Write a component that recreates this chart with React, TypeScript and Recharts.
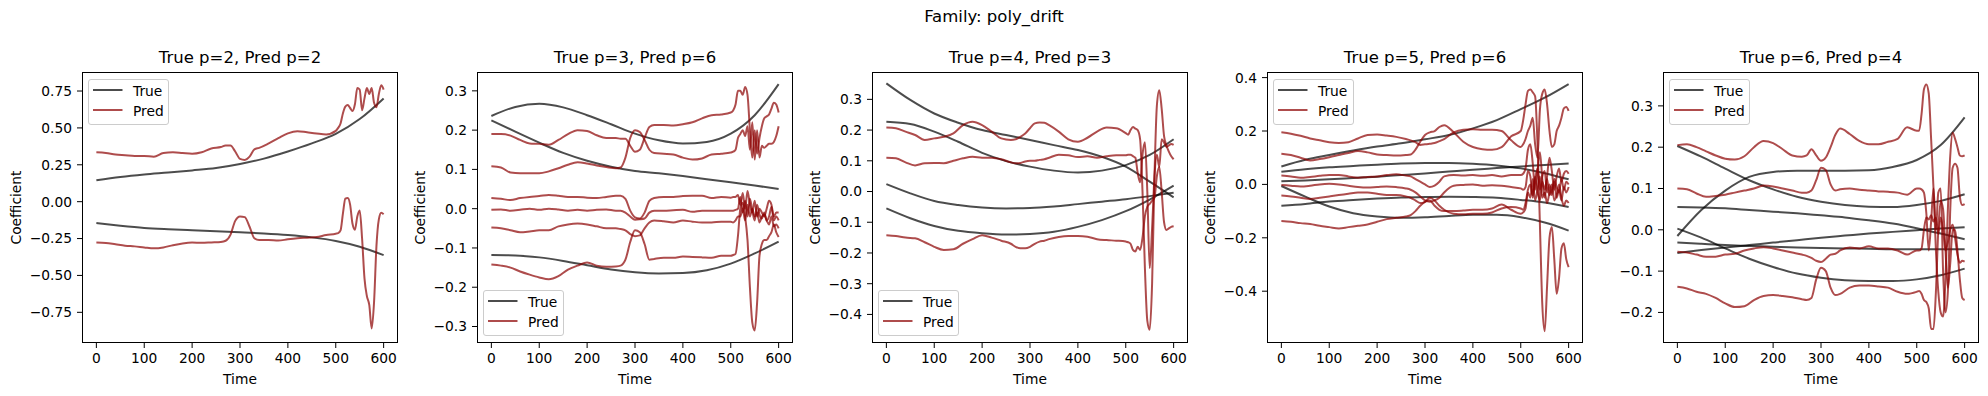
import { LineChart, Line, XAxis, YAxis } from "recharts";

// time grids: true curves are smooth, so a coarse grid is enough;
// predictions get denser sampling where they wiggle (the bump near 300 and the tail)
const TIME_TRUE = [0, 50, 100, 150, 200, 250, 300, 350, 400, 450, 500, 550, 600];
const TIME_PRED = [
  0, 20, 40, 60, 80, 100, 120, 140, 160, 180, 200, 220, 240, 260,
  270, 280, 290, 300, 310, 320, 330, 340,
  360, 380, 400, 420, 440, 460, 480, 500,
  505, 510, 515, 520, 525, 530, 535, 540, 545, 550, 555, 560, 565, 570, 575, 580, 585, 590, 595, 600,
];
const X_TICKS = [0, 100, 200, 300, 400, 500, 600];

// ---- panel 1: true p=2, pred p=2
const P1_TRUE_1 = [0.145, 0.168, 0.185, 0.198, 0.212, 0.228, 0.255, 0.292, 0.34, 0.395, 0.46, 0.56, 0.7];
const P1_TRUE_2 = [-0.145, -0.163, -0.178, -0.187, -0.194, -0.2, -0.207, -0.215, -0.226, -0.242, -0.266, -0.305, -0.362];
const P1_PRED_1 = [
  0.335, 0.33, 0.32, 0.315, 0.31, 0.31, 0.305, 0.33, 0.335, 0.33, 0.325, 0.335, 0.36, 0.37,
  0.38, 0.38, 0.34, 0.29, 0.283, 0.305, 0.355, 0.365,
  0.395, 0.43, 0.463, 0.478, 0.47, 0.462, 0.456, 0.48,
  0.5, 0.53, 0.6, 0.645, 0.655, 0.635, 0.615, 0.66, 0.77, 0.76, 0.62, 0.7, 0.77, 0.73, 0.77, 0.67, 0.64, 0.73, 0.79, 0.76,
];
const P1_PRED_2 = [
  -0.276, -0.28, -0.289, -0.298, -0.303, -0.31, -0.316, -0.31, -0.295, -0.283, -0.277, -0.279, -0.276, -0.273,
  -0.265, -0.225, -0.13, -0.1, -0.105, -0.17, -0.248, -0.26,
  -0.26, -0.264, -0.255, -0.248, -0.244, -0.24, -0.226, -0.217,
  -0.213, -0.195, -0.08, 0.02, 0.025, -0.02, -0.15, -0.19, -0.1, -0.06, -0.25, -0.52, -0.64, -0.7, -0.86, -0.68, -0.3, -0.12, -0.075, -0.085,
];

// ---- panel 2: true p=3, pred p=6
const P2_TRUE_1 = [0.236, 0.259, 0.267, 0.258, 0.238, 0.215, 0.191, 0.174, 0.166, 0.17, 0.191, 0.238, 0.317];
const P2_TRUE_2 = [0.225, 0.196, 0.168, 0.142, 0.122, 0.107, 0.096, 0.09, 0.083, 0.075, 0.067, 0.059, 0.05];
const P2_TRUE_3 = [-0.118, -0.119, -0.124, -0.133, -0.144, -0.155, -0.162, -0.165, -0.164, -0.157, -0.14, -0.114, -0.084];
const P2_PRED_1 = [
  0.19, 0.19, 0.186, 0.175, 0.166, 0.165, 0.163, 0.175, 0.19, 0.2, 0.198, 0.187, 0.18, 0.18,
  0.178, 0.178, 0.16, 0.145, 0.15, 0.18, 0.208, 0.213,
  0.213, 0.212, 0.215, 0.22, 0.23, 0.238, 0.24, 0.245,
  0.25, 0.265, 0.3, 0.3, 0.29, 0.31, 0.29, 0.2, 0.13, 0.2, 0.14, 0.18, 0.21, 0.23, 0.235, 0.24, 0.255, 0.27, 0.265, 0.245,
];
const P2_PRED_2 = [
  0.108, 0.105, 0.092, 0.09, 0.09, 0.09, 0.095, 0.103, 0.112, 0.118, 0.115, 0.11, 0.106, 0.103,
  0.105, 0.13, 0.18, 0.2, 0.195, 0.175, 0.15, 0.142,
  0.14, 0.138, 0.13, 0.125, 0.128, 0.138, 0.14, 0.143,
  0.145, 0.15, 0.18, 0.19, 0.2, 0.185, 0.21, 0.15, 0.22, 0.125, 0.2, 0.13, 0.16, 0.155, 0.16, 0.165, 0.165, 0.17, 0.185, 0.21,
];
const P2_PRED_3 = [
  0.027, 0.025, 0.022, 0.027, 0.03, 0.032, 0.035, 0.033, 0.03, 0.03, 0.028, 0.027, 0.03, 0.033,
  0.033, 0.025, -0.005, -0.022, -0.025, -0.01, 0.02, 0.027,
  0.03, 0.03, 0.032, 0.033, 0.033, 0.027, 0.03, 0.028,
  0.03, 0.03, 0.035, 0.01, 0.04, 0.0, 0.045, 0.01, -0.01, 0.02, -0.02, 0.0, -0.01, -0.02, 0.0, 0.02, 0.01, -0.02, -0.01, -0.01,
];
const P2_PRED_4 = [
  -0.003, -0.002, -0.005, -0.003, 0.0, -0.003, 0.0, -0.002, -0.005, -0.003, -0.005, -0.003, -0.002, -0.005,
  -0.005, -0.01, -0.02, -0.028, -0.027, -0.025, -0.01, -0.005,
  -0.005, -0.004, -0.003, -0.008, -0.005, -0.005, -0.005, -0.005,
  -0.005, -0.003, 0.0, 0.03, -0.01, 0.02, -0.02, 0.025, -0.005, -0.03, 0.01, -0.015, -0.025, -0.01, -0.03, -0.02, 0.005, -0.03, -0.02, -0.03,
];
const P2_PRED_5 = [
  -0.048, -0.05, -0.055, -0.06, -0.058, -0.055, -0.055, -0.045, -0.04, -0.038, -0.04, -0.045, -0.05, -0.05,
  -0.052, -0.055, -0.065, -0.07, -0.068, -0.05, -0.035, -0.03,
  -0.032, -0.035, -0.03, -0.033, -0.035, -0.035, -0.033, -0.033,
  -0.035, -0.03, -0.02, -0.02, 0.0, -0.03, 0.01, -0.02, 0.0, -0.02, -0.01, -0.035, -0.02, -0.015, -0.03, -0.04, -0.02, -0.045, -0.04, -0.05,
];
const P2_PRED_6 = [
  -0.142, -0.145, -0.15, -0.16, -0.168, -0.175, -0.18, -0.172, -0.155, -0.145, -0.137, -0.145, -0.148, -0.147,
  -0.145, -0.13, -0.085, -0.055, -0.06, -0.09, -0.13, -0.128,
  -0.125, -0.125, -0.122, -0.123, -0.124, -0.125, -0.12, -0.12,
  -0.118, -0.115, -0.07, 0.0, 0.015, -0.02, -0.08, -0.2, -0.29, -0.31, -0.24, -0.12, -0.09, -0.08, -0.08, -0.07, -0.06, -0.04, -0.06, -0.072,
];

// ---- panel 3: true p=4, pred p=3
const P3_TRUE_1 = [0.352, 0.298, 0.254, 0.224, 0.2, 0.184, 0.168, 0.151, 0.135, 0.113, 0.081, 0.032, -0.019];
const P3_TRUE_2 = [0.227, 0.22, 0.195, 0.162, 0.126, 0.099, 0.081, 0.068, 0.062, 0.068, 0.086, 0.119, 0.17];
const P3_TRUE_3 = [0.024, -0.006, -0.031, -0.044, -0.052, -0.055, -0.054, -0.049, -0.041, -0.033, -0.025, -0.015, -0.004];
const P3_TRUE_4 = [-0.055, -0.087, -0.112, -0.128, -0.136, -0.14, -0.138, -0.131, -0.115, -0.093, -0.064, -0.026, 0.019];
const P3_PRED_1 = [
  0.208, 0.206, 0.195, 0.184, 0.168, 0.173, 0.178, 0.189, 0.216, 0.227, 0.216, 0.195, 0.173, 0.168,
  0.17, 0.178, 0.189, 0.206, 0.222, 0.225, 0.224, 0.216,
  0.195, 0.17, 0.162, 0.175, 0.195, 0.208, 0.206, 0.19,
  0.185, 0.2, 0.21, 0.205, 0.2, 0.17, 0.0, -0.25, -0.42, -0.45, -0.3, 0.05, 0.28, 0.33, 0.27, 0.18, 0.15, 0.13, 0.115, 0.105,
];
const P3_PRED_2 = [
  0.11, 0.108, 0.095, 0.085, 0.092, 0.093, 0.092, 0.1, 0.108, 0.113, 0.11, 0.11, 0.105, 0.095,
  0.092, 0.093, 0.098, 0.1, 0.1, 0.103, 0.105, 0.11,
  0.12, 0.118, 0.112, 0.115, 0.11, 0.115, 0.118, 0.118,
  0.12, 0.12, 0.115, 0.11, 0.06, 0.03, 0.12, 0.16, 0.0, -0.25, -0.12, 0.05, 0.12, 0.08, 0.17, 0.16, 0.145, 0.15, 0.155, 0.152,
];
const P3_PRED_3 = [
  -0.142, -0.145, -0.15, -0.152, -0.165, -0.18, -0.19, -0.188, -0.17, -0.155, -0.142, -0.15, -0.16, -0.17,
  -0.18, -0.185, -0.185, -0.18, -0.17, -0.163, -0.16, -0.155,
  -0.148, -0.145, -0.145, -0.147, -0.155, -0.158, -0.16, -0.163,
  -0.165, -0.17, -0.19, -0.195, -0.18, -0.19, -0.15, -0.08, -0.05, -0.04, -0.03, -0.02, 0.05, 0.08, 0.0, -0.1, -0.125, -0.12, -0.115, -0.113,
];

// ---- panel 4: true p=5, pred p=6
const P4_TRUE_1 = [0.067, 0.092, 0.11, 0.127, 0.142, 0.154, 0.169, 0.185, 0.21, 0.241, 0.282, 0.325, 0.376];
const P4_TRUE_2 = [0.047, 0.057, 0.064, 0.069, 0.074, 0.078, 0.08, 0.08, 0.077, 0.071, 0.06, 0.042, 0.019];
const P4_TRUE_3 = [0.012, 0.015, 0.019, 0.024, 0.029, 0.035, 0.041, 0.048, 0.055, 0.061, 0.067, 0.073, 0.078];
const P4_TRUE_4 = [-0.08, -0.073, -0.064, -0.058, -0.053, -0.049, -0.047, -0.046, -0.047, -0.05, -0.058, -0.068, -0.085];
const P4_TRUE_5 = [-0.006, -0.046, -0.083, -0.108, -0.12, -0.125, -0.123, -0.118, -0.114, -0.114, -0.123, -0.143, -0.173];
const P4_PRED_1 = [
  0.195, 0.19, 0.182, 0.172, 0.165, 0.158, 0.155, 0.158, 0.172, 0.185, 0.187, 0.183, 0.178, 0.17,
  0.165, 0.158, 0.148, 0.15, 0.152, 0.155, 0.162, 0.17,
  0.195, 0.205, 0.207, 0.205, 0.205, 0.2, 0.165, 0.14,
  0.15, 0.17, 0.2, 0.22, 0.25, 0.15, 0.1, 0.28, 0.34, 0.355, 0.3, 0.2, 0.14, 0.15, 0.2, 0.22, 0.25, 0.285, 0.29, 0.275,
];
const P4_PRED_2 = [
  0.115, 0.11, 0.1, 0.09, 0.095, 0.102, 0.11, 0.118, 0.125, 0.12, 0.112, 0.11, 0.108, 0.11,
  0.112, 0.13, 0.16, 0.185, 0.195, 0.2, 0.215, 0.222,
  0.195, 0.16, 0.14, 0.132, 0.13, 0.14, 0.18, 0.2,
  0.24, 0.3, 0.35, 0.355, 0.345, 0.33, 0.15, -0.15, -0.45, -0.55, -0.38, -0.2, -0.16, -0.28, -0.41, -0.35, -0.24, -0.22, -0.28, -0.31,
];
const P4_PRED_3 = [
  0.033, 0.03, 0.025, 0.028, 0.032, 0.035, 0.035, 0.03, 0.025, 0.028, 0.03, 0.035, 0.038, 0.033,
  0.03, 0.02, 0.01, 0.0, -0.01, -0.005, 0.01, 0.03,
  0.035, 0.033, 0.035, 0.032, 0.035, 0.03, 0.035, 0.035,
  0.04, 0.06, 0.13, 0.15, 0.08, -0.02, 0.05, 0.12, 0.02, -0.05, 0.03, 0.1, 0.05, -0.02, 0.03, 0.06, 0.01, 0.04, 0.05, 0.04,
];
const P4_PRED_4 = [
  -0.002, -0.005, -0.008, -0.005, 0.0, 0.002, 0.0, -0.005, -0.01, -0.012, -0.01, -0.008, -0.01, -0.015,
  -0.02, -0.03, -0.045, -0.06, -0.065, -0.06, -0.05, -0.03,
  -0.005, -0.002, 0.0, -0.005, -0.003, -0.005, -0.01, -0.015,
  -0.02, -0.01, 0.05, 0.03, -0.05, 0.02, 0.06, -0.02, 0.03, 0.05, -0.03, 0.0, -0.04, 0.02, -0.01, -0.03, 0.02, -0.02, 0.01, 0.0,
];
const P4_PRED_5 = [
  -0.042, -0.045, -0.05, -0.055, -0.05, -0.045, -0.04, -0.035, -0.03, -0.03, -0.035, -0.04, -0.04, -0.045,
  -0.05, -0.06, -0.07, -0.065, -0.05, -0.06, -0.08, -0.095,
  -0.11, -0.112, -0.11, -0.11, -0.105, -0.09, -0.085, -0.09,
  -0.095, -0.07, -0.02, 0.0, -0.04, 0.03, -0.03, -0.06, 0.01, -0.02, 0.02, -0.04, -0.02, 0.01, -0.05, -0.02, -0.06, -0.01, -0.03, -0.01,
];
const P4_PRED_6 = [
  -0.137, -0.14, -0.145, -0.148, -0.155, -0.16, -0.165, -0.16, -0.155, -0.15, -0.14, -0.13, -0.125, -0.12,
  -0.115, -0.1, -0.08, -0.065, -0.06, -0.08, -0.095, -0.1,
  -0.1, -0.098, -0.095, -0.095, -0.09, -0.075, -0.095, -0.11,
  -0.105, -0.09, -0.03, -0.05, 0.02, -0.06, -0.02, 0.03, -0.05, -0.03, -0.07, -0.03, 0.0, -0.06, -0.04, 0.0, -0.05, -0.08, -0.06, -0.07,
];

// ---- panel 5: true p=6, pred p=4
const P5_TRUE_1 = [0.203, 0.177, 0.148, 0.12, 0.098, 0.08, 0.068, 0.06, 0.056, 0.055, 0.06, 0.07, 0.086];
const P5_TRUE_2 = [-0.015, 0.048, 0.095, 0.128, 0.14, 0.143, 0.143, 0.143, 0.144, 0.152, 0.169, 0.205, 0.272];
const P5_TRUE_3 = [0.055, 0.054, 0.052, 0.048, 0.044, 0.04, 0.035, 0.03, 0.023, 0.015, 0.004, -0.009, -0.023];
const P5_TRUE_4 = [-0.056, -0.049, -0.043, -0.037, -0.031, -0.025, -0.019, -0.014, -0.009, -0.005, -0.001, 0.003, 0.006];
const P5_TRUE_5 = [-0.031, -0.034, -0.037, -0.039, -0.041, -0.043, -0.044, -0.045, -0.046, -0.047, -0.047, -0.047, -0.047];
const P5_TRUE_6 = [0.003, -0.019, -0.045, -0.07, -0.09, -0.106, -0.116, -0.122, -0.124, -0.124, -0.12, -0.11, -0.094];
const P5_PRED_1 = [
  0.205, 0.207, 0.2, 0.19, 0.18, 0.172, 0.17, 0.178, 0.2, 0.215, 0.21, 0.195, 0.18, 0.177,
  0.18, 0.195, 0.18, 0.167, 0.175, 0.2, 0.23, 0.245,
  0.232, 0.215, 0.207, 0.207, 0.213, 0.22, 0.248, 0.24,
  0.24, 0.28, 0.34, 0.352, 0.33, 0.22, 0.1, -0.05, -0.15, -0.2, -0.21, -0.12, 0.05, 0.18, 0.235, 0.22, 0.2, 0.18, 0.178, 0.18,
];
const P5_PRED_2 = [
  0.1, 0.098, 0.088, 0.08, 0.082, 0.085, 0.09, 0.095, 0.1, 0.107, 0.105, 0.1, 0.095, 0.09,
  0.09, 0.095, 0.12, 0.15, 0.145, 0.11, 0.095, 0.098,
  0.1, 0.097, 0.095, 0.093, 0.092, 0.09, 0.085, 0.1,
  0.1, 0.098, 0.09, 0.04, -0.05, 0.02, 0.1, 0.0, 0.09, 0.1, -0.1, -0.2, -0.15, 0.05, 0.15, 0.16, 0.15, 0.08, 0.06, 0.062,
];
const P5_PRED_3 = [
  -0.053, -0.055, -0.06, -0.065, -0.065, -0.06, -0.058, -0.05, -0.045, -0.042, -0.045, -0.05, -0.055, -0.06,
  -0.063, -0.068, -0.075, -0.078, -0.07, -0.06, -0.058, -0.05,
  -0.043, -0.045, -0.04, -0.045, -0.045, -0.05, -0.06, -0.05,
  -0.05, -0.045, 0.0, 0.03, 0.025, 0.035, 0.02, 0.03, -0.01, 0.03, 0.0, -0.05, -0.03, 0.0, 0.012, -0.02, -0.06, -0.08, -0.075, -0.077,
];
const P5_PRED_4 = [
  -0.138, -0.142, -0.15, -0.155, -0.165, -0.178, -0.187, -0.185, -0.17, -0.16, -0.158, -0.16, -0.163, -0.168,
  -0.17, -0.165, -0.12, -0.092, -0.1, -0.14, -0.158, -0.155,
  -0.14, -0.135, -0.135, -0.137, -0.14, -0.15, -0.155, -0.15,
  -0.148, -0.155, -0.17, -0.175, -0.19, -0.24, -0.24, -0.15, 0.0, 0.07, 0.05, -0.05, -0.14, -0.08, 0.0, 0.0, -0.05, -0.12, -0.165, -0.17,
];

const TRUE_COLOR = "#000000";
const PRED_COLOR = "#8b0000";
const FONT = "'DejaVu Sans', sans-serif";

const FIG_W = 1988;
const FIG_H = 396;
const PLOT_TOP = 72;
const PLOT_W = 316;
const PLOT_H = 271;
const AXIS_W = 80;
const TICK_FS = 13.8;
const TITLE_FS = 16.5;

type PanelCfg = {
  title: string;
  trueLines: number[][];
  predLines: number[][];
  domain: [number, number];
  ticks: number[];
  decimals: number;
  legend: "upper" | "lower";
  boxLeft: number;
  labelOffset: number;
};

const PANELS: PanelCfg[] = [
  {
    title: "True p=2, Pred p=2",
    trueLines: [P1_TRUE_1, P1_TRUE_2],
    predLines: [P1_PRED_1, P1_PRED_2],
    domain: [-0.958, 0.879],
    ticks: [-0.75, -0.5, -0.25, 0, 0.25, 0.5, 0.75],
    decimals: 2,
    legend: "upper",
    boxLeft: 82,
    labelOffset: 14,
  },
  {
    title: "True p=3, Pred p=6",
    trueLines: [P2_TRUE_1, P2_TRUE_2, P2_TRUE_3],
    predLines: [P2_PRED_1, P2_PRED_2, P2_PRED_3, P2_PRED_4, P2_PRED_5, P2_PRED_6],
    domain: [-0.342, 0.348],
    ticks: [-0.3, -0.2, -0.1, 0, 0.1, 0.2, 0.3],
    decimals: 1,
    legend: "lower",
    boxLeft: 477,
    labelOffset: 23,
  },
  {
    title: "True p=4, Pred p=3",
    trueLines: [P3_TRUE_1, P3_TRUE_2, P3_TRUE_3, P3_TRUE_4],
    predLines: [P3_PRED_1, P3_PRED_2, P3_PRED_3],
    domain: [-0.493, 0.389],
    ticks: [-0.4, -0.3, -0.2, -0.1, 0, 0.1, 0.2, 0.3],
    decimals: 1,
    legend: "lower",
    boxLeft: 872,
    labelOffset: 23,
  },
  {
    title: "True p=5, Pred p=6",
    trueLines: [P4_TRUE_1, P4_TRUE_2, P4_TRUE_3, P4_TRUE_4, P4_TRUE_5],
    predLines: [P4_PRED_1, P4_PRED_2, P4_PRED_3, P4_PRED_4, P4_PRED_5, P4_PRED_6],
    domain: [-0.594, 0.421],
    ticks: [-0.4, -0.2, 0, 0.2, 0.4],
    decimals: 1,
    legend: "upper",
    boxLeft: 1267,
    labelOffset: 23,
  },
  {
    title: "True p=6, Pred p=4",
    trueLines: [P5_TRUE_1, P5_TRUE_2, P5_TRUE_3, P5_TRUE_4, P5_TRUE_5, P5_TRUE_6],
    predLines: [P5_PRED_1, P5_PRED_2, P5_PRED_3, P5_PRED_4],
    domain: [-0.274, 0.382],
    ticks: [-0.2, -0.1, 0, 0.1, 0.2, 0.3],
    decimals: 1,
    legend: "upper",
    boxLeft: 1663,
    labelOffset: 22,
  },
];

const LEGEND_ITEMS = [
  { label: "True", color: TRUE_COLOR },
  { label: "Pred", color: PRED_COLOR },
];

const toPoints = (xs: number[], ys: number[]) => xs.map((t, i) => ({ t, v: ys[i] }));

const fmt = (decimals: number) => (v: number) => v.toFixed(decimals).replace("-", "\u2212");

function LegendBox({ left, top }: { left: number; top: number }) {
  return (
    <div
      style={{
        position: "absolute",
        left,
        top,
        width: 81,
        height: 46,
        boxSizing: "border-box",
        border: "1px solid #cccccc",
        borderRadius: 3,
        background: "rgba(255,255,255,0.8)",
        fontSize: TICK_FS,
        lineHeight: 1,
      }}
    >
      {LEGEND_ITEMS.map((it, i) => (
        <div key={it.label}>
          <svg
            width={30}
            height={4}
            style={{ position: "absolute", left: 4, top: 7.7 + i * 20.7 }}
          >
            <line x1={0} x2={29.5} y1={2} y2={2} stroke={it.color} strokeOpacity={0.7} strokeWidth={2} />
          </svg>
          <span style={{ position: "absolute", left: 44, top: 4.7 + i * 20.6, whiteSpace: "nowrap" }}>
            {it.label}
          </span>
        </div>
      ))}
    </div>
  );
}

function Panel({ p }: { p: PanelCfg }) {
  const axisTick = { fill: "#000", fontSize: TICK_FS };
  return (
    <>
      <div
        style={{
          position: "absolute",
          left: p.boxLeft,
          top: 50,
          width: PLOT_W,
          textAlign: "center",
          fontSize: TITLE_FS,
          lineHeight: 1,
          whiteSpace: "nowrap",
        }}
      >
        {p.title}
      </div>
      <div style={{ position: "absolute", left: p.boxLeft - AXIS_W, top: 0 }}>
        <LineChart
          width={AXIS_W + PLOT_W + 10}
          height={FIG_H}
          margin={{ top: PLOT_TOP, right: 10, bottom: 0, left: 0 }}
        >
          <XAxis
            type="number"
            dataKey="t"
            domain={[-30, 630]}
            ticks={X_TICKS}
            interval={0}
            height={FIG_H - PLOT_TOP - PLOT_H}
            axisLine={false}
            tickSize={5}
            tickMargin={5}
            tickLine={{ stroke: "#000" }}
            tick={axisTick}
            allowDataOverflow
            label={{ value: "Time", position: "insideBottom", offset: 12, fill: "#000", fontSize: TICK_FS }}
          />
          <YAxis
            type="number"
            domain={p.domain}
            ticks={p.ticks}
            interval={0}
            width={AXIS_W}
            axisLine={false}
            tickSize={5}
            tickMargin={5}
            tickLine={{ stroke: "#000" }}
            tick={axisTick}
            tickFormatter={fmt(p.decimals)}
            allowDataOverflow
            label={{
              value: "Coefficient",
              angle: -90,
              position: "insideLeft",
              offset: p.labelOffset,
              fill: "#000",
              fontSize: TICK_FS,
              style: { textAnchor: "middle" },
            }}
          />
          {p.trueLines.map((ys, i) => (
            <Line
              key={`true-${i}`}
              data={toPoints(TIME_TRUE, ys)}
              dataKey="v"
              type="monotone"
              stroke={TRUE_COLOR}
              strokeOpacity={0.7}
              strokeWidth={2}
              dot={false}
              activeDot={false}
              isAnimationActive={false}
            />
          ))}
          {p.predLines.map((ys, i) => (
            <Line
              key={`pred-${i}`}
              data={toPoints(TIME_PRED, ys)}
              dataKey="v"
              type="monotone"
              stroke={PRED_COLOR}
              strokeOpacity={0.7}
              strokeWidth={2}
              dot={false}
              activeDot={false}
              isAnimationActive={false}
            />
          ))}
        </LineChart>
      </div>
      {/* axes frame */}
      <div
        style={{
          position: "absolute",
          left: p.boxLeft,
          top: PLOT_TOP,
          width: PLOT_W,
          height: PLOT_H,
          border: "1px solid #000",
          boxSizing: "border-box",
          pointerEvents: "none",
        }}
      />
      <LegendBox
        left={p.boxLeft + 6}
        top={p.legend === "upper" ? PLOT_TOP + 7 : PLOT_TOP + PLOT_H - 7 - 46}
      />
    </>
  );
}

export default function App() {
  return (
    <div
      style={{
        position: "relative",
        width: FIG_W,
        height: FIG_H,
        overflow: "hidden",
        background: "#fff",
        color: "#000",
        fontFamily: FONT,
      }}
    >
      <style>{`body { margin: 0; }`}</style>
      <div
        style={{
          position: "absolute",
          left: 0,
          top: 9,
          width: FIG_W,
          textAlign: "center",
          fontSize: TITLE_FS,
          lineHeight: 1,
        }}
      >
        Family: poly_drift
      </div>
      {PANELS.map((p) => (
        <Panel key={p.title} p={p} />
      ))}
    </div>
  );
}
